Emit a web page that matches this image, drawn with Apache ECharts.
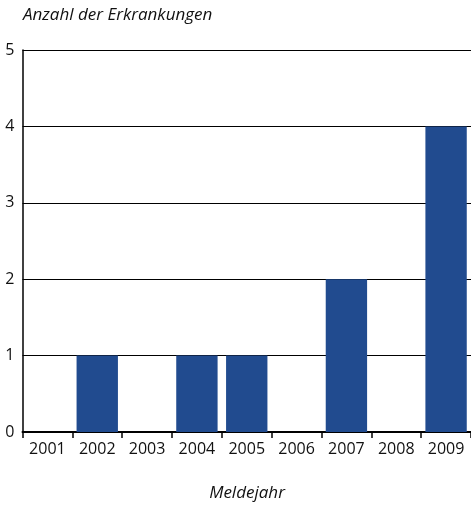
<!DOCTYPE html>
<html>
<head>
<meta charset="utf-8">
<script src="https://cdn.jsdelivr.net/npm/echarts@6/dist/echarts.min.js"></script>
<style>html,body{margin:0;padding:0;background:#fff;}#c{width:471px;height:508px;}</style>
</head>
<body>
<div id="c"></div>
<script>
const categories = ['2001','2002','2003','2004','2005','2006','2007','2008','2009'];
const cases = [0, 1, 0, 1, 1, 0, 2, 0, 4];
const yTicks = [0, 1, 2, 3, 4, 5];
const yTitle = 'Anzahl der Erkrankungen';
const xTitle = 'Meldejahr';

const chart = echarts.init(document.getElementById('c'), null, {renderer: 'canvas'});
chart.setOption({
  animation: false,
  backgroundColor: '#fff',
  grid: {left: 22.5, top: 50, width: 451, bottom: 76, containLabel: false},
  title: [
    {text: yTitle, left: 23, top: 7, padding: 0, textStyle: {fontFamily: 'Open Sans', fontStyle: 'italic', fontWeight: 'normal', fontSize: 17, color: '#111'}},
    {text: xTitle, left: 247, top: 485, padding: 0, textAlign: 'center', textStyle: {fontFamily: 'Open Sans', fontStyle: 'italic', fontWeight: 'normal', fontSize: 17, color: '#111'}}
  ],
  xAxis: {
    type: 'category',
    data: categories,
    axisLine: {lineStyle: {color: '#000', width: 2}},
    axisTick: {show: true, alignWithLabel: false, length: 6, lineStyle: {color: '#000', width: 1.5}},
    axisLabel: {margin: 9, fontFamily: 'Open Sans', fontSize: 16, color: '#111'}
  },
  yAxis: {
    type: 'value', min: 0, max: 5, interval: 1,
    axisLine: {show: true, lineStyle: {color: '#000', width: 1.5}},
    axisTick: {show: false},
    splitLine: {show: true, lineStyle: {color: '#000', width: 1}},
    axisLabel: {margin: 8, fontFamily: 'Open Sans', fontSize: 16, color: '#111',
      formatter: v => yTicks.includes(v) ? String(v) : ''}
  },
  series: [{
    type: 'bar',
    data: cases,
    barCategoryGap: '17%',
    itemStyle: {color: '#214b8f'}
  }]
});
</script>
</body>
</html>
